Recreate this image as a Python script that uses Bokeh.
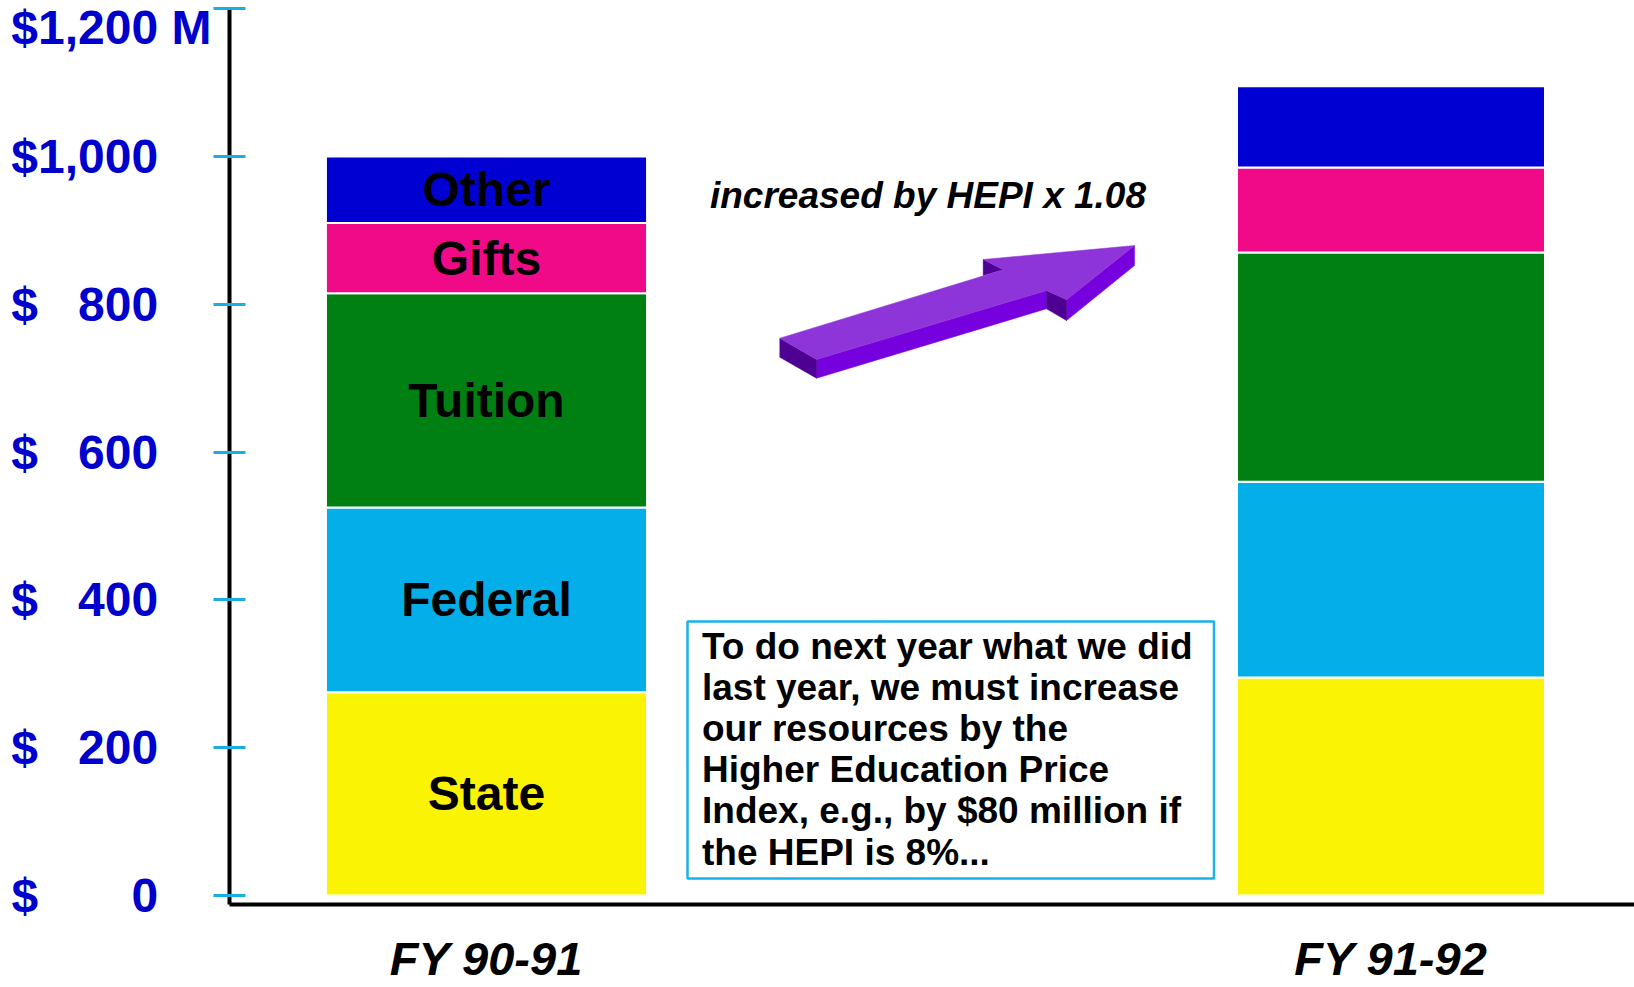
from bokeh.plotting import figure
from bokeh.models import ColumnDataSource, FixedTicker, Range1d, Label, BoxAnnotation
from bokeh.core.properties import value
from bokeh.embed import file_html
from bokeh.resources import INLINE

# ---------------- data ($ millions) ----------------
years = ["FY 90-91", "FY 91-92"]
year_pos = [1, 2]
sources = ["State", "Federal", "Tuition", "Gifts", "Other"]
state = [275, 295]
federal = [250, 265]
tuition = [290, 310]
gifts = [95, 115]
other = [90, 110]
y_ticks = [0, 200, 400, 600, 800, 1000, 1200]
y_tick_text = ["$ 0", "$ 200", "$ 400", "$ 600", "$ 800", "$1,000", "$1,200 M"]

note_text = ("To do next year what we did\nlast year, we must increase\nour resources by the\n"
             "Higher Education Price\nIndex, e.g., by $80 million if\nthe HEPI is 8%...")
arrow_text = "increased by HEPI x 1.08"

# ---------------- styles / layout ----------------
colors = ["#FBF304", "#03AEE9", "#007F13", "#F00A88", "#0000D2"]
bar_widths = [0.355, 0.3405]
FONT = value("Liberation Sans")
W, H = 1634, 987
B_LEFT, B_TOP, B_BOTTOM = 229, 7, 83
FRAME_W = W - B_LEFT
FRAME_H = H - B_TOP - B_BOTTOM
S = 0.739              # px per $M
X_UNIT = 904.5         # px per category step
y_start = -(H - B_BOTTOM - 895) / S
y_end = y_start + FRAME_H / S
x_start = 1 - (486 - B_LEFT) / X_UNIT
x_end = x_start + FRAME_W / X_UNIT

# canvas-pixel -> data helpers for decorations
def dx(px):
    return x_start + (px - B_LEFT) / X_UNIT

def dy(py):
    return y_start + (H - B_BOTTOM - py) / S

p = figure(width=W, height=H, x_range=Range1d(x_start, x_end), y_range=Range1d(y_start, y_end),
           output_backend="svg", toolbar_location=None, min_border_left=B_LEFT,
           min_border_top=B_TOP, min_border_right=0, min_border_bottom=B_BOTTOM,
           outline_line_color=None, background_fill_color="white", border_fill_color="white")
p.xgrid.visible = False
p.ygrid.visible = False

src = ColumnDataSource(dict(x=year_pos, w=bar_widths, State=state, Federal=federal,
                            Tuition=tuition, Gifts=gifts, Other=other))
p.vbar_stack(sources, x="x", width="w", color=colors, source=src,
             line_color="white", line_width=2)

# segment labels on the first bar
first = [state[0], federal[0], tuition[0], gifts[0], other[0]]
mids, acc = [], 0
for v in first:
    mids.append(acc + v / 2)
    acc += v
p.text(x=[year_pos[0]] * len(sources), y=mids, text=sources, text_align="center",
       text_baseline="middle", text_font=FONT, text_font_style="bold",
       text_font_size="48px", text_color="black")

# y axis
NB = "\u00a0"
def pad(t):
    if t.endswith("M"):
        return t
    if t.startswith("$ "):
        num = t[2:]
        fill = {1: 7, 3: 3}[len(num)]
        return "$" + NB * fill + num + NB * 4
    return t + NB * 4

yax = p.yaxis[0]
yax.ticker = FixedTicker(ticks=y_ticks, minor_ticks=[])
yax.major_label_overrides = {t: pad(s) for t, s in zip(y_ticks, y_tick_text)}
yax.axis_line_color = "black"
yax.axis_line_width = 4
yax.major_tick_line_color = "#1AADE4"
yax.major_tick_line_width = 3
yax.major_tick_in = 16
yax.major_tick_out = 16
yax.minor_tick_line_color = None
yax.major_label_standoff = 2
yax.major_label_text_font = "Liberation Sans"
yax.major_label_text_font_style = "bold"
yax.major_label_text_font_size = "48px"
yax.major_label_text_color = "#0000CC"

# x axis
xax = p.xaxis[0]
xax.ticker = FixedTicker(ticks=year_pos, minor_ticks=[])
xax.major_label_overrides = {k: v for k, v in zip(year_pos, years)}
xax.axis_line_color = "black"
xax.axis_line_width = 4
xax.major_tick_line_color = None
xax.major_tick_in = 0
xax.major_tick_out = 0
xax.minor_tick_line_color = None
xax.major_label_standoff = 27
xax.major_label_text_font = "Liberation Sans"
xax.major_label_text_font_style = "bold italic"
xax.major_label_text_font_size = "47px"
xax.major_label_text_color = "black"

# 3-D arrow (decoration, canvas pixels)
top_face = [(779.3, 337.7), (816.0, 359.0), (1046.0, 290.0), (1066.0, 299.3), (1134.0, 245.0),
            (982.7, 259.0), (1002.7, 269.3)]
front_shaft = [(816.0, 359.0), (1046.0, 290.0), (1046.0, 308.3), (816.0, 377.7)]
front_head = [(1066.0, 299.3), (1134.0, 245.0), (1134.0, 265.0), (1066.0, 320.0)]
notch = [(1046.0, 290.0), (1066.0, 299.3), (1066.0, 320.0), (1046.0, 308.3)]
tail = [(779.3, 337.7), (816.0, 359.0), (816.0, 377.7), (779.3, 356.7)]
barb = [(982.7, 259.0), (982.7, 275.0), (1002.7, 269.3)]
faces = [front_shaft, front_head, notch, tail, barb, top_face]
face_colors = ["#7600DE", "#7600DE", "#4D0092", "#4D0092", "#4D0092", "#8E35D9"]
p.patches(xs=[[dx(a) for a, b in f] for f in faces], ys=[[dy(b) for a, b in f] for f in faces],
          fill_color=face_colors, line_color=face_colors, line_width=0.5)

p.add_layout(Label(x=dx(927.5), y=dy(194.5), text=arrow_text, text_align="center",
                   text_baseline="alphabetic", text_font="Liberation Sans",
                   text_font_style="bold italic", text_font_size="37px", text_color="black"))

# note box
p.add_layout(BoxAnnotation(left=dx(687), right=dx(1213.5), top=dy(621), bottom=dy(878),
                           fill_color="white", fill_alpha=1, line_color="#1AB2EA",
                           line_width=2.5, line_alpha=1))
p.add_layout(Label(x=dx(701.5), y=dy(625), text=note_text, text_align="left",
                   text_baseline="top", text_font="Liberation Sans", text_font_style="bold",
                   text_font_size="37px", text_line_height=1.006, text_color="black"))

open("out.html", "w").write(file_html(p, INLINE))
